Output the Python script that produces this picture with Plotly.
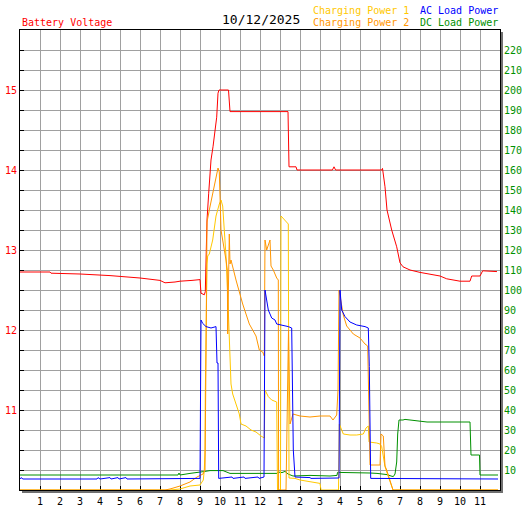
import plotly.graph_objects as go

# hours of the day on the x axis
hour_ticks = [1, 2, 3, 4, 5, 6, 7, 8, 9, 10, 11, 12, 13, 14, 15, 16, 17, 18, 19, 20, 21, 22, 23]
hour_labels = ["1", "2", "3", "4", "5", "6", "7", "8", "9", "10", "11", "12",
               "1", "2", "3", "4", "5", "6", "7", "8", "9", "10", "11"]
volt_ticks = [11, 12, 13, 14, 15]
power_ticks = [10, 20, 30, 40, 50, 60, 70, 80, 90, 100, 110, 120, 130, 140, 150, 160,
               170, 180, 190, 200, 210, 220]
date_label = "10/12/2025"

# Battery Voltage (V)
volt_t = [0, 1.5, 1.55, 3.0, 4.5, 6.0, 7.0, 7.25, 7.75, 8.0, 8.6, 9.0, 9.05, 9.215, 9.265,
          9.3, 9.35, 9.435, 9.55, 9.65, 9.835, 9.9, 9.95, 10.425, 10.5, 13.4, 13.45, 13.8,
          13.85, 15.62, 15.7, 15.78, 18.085, 18.125, 18.25, 18.35, 18.585, 18.835, 19.0,
          19.15, 19.5, 20.0, 20.5, 21.0, 21.335, 22.0, 22.5, 22.585, 23.0, 23.135, 23.85]
volt_v = [12.725, 12.725, 12.71, 12.70, 12.68, 12.65, 12.62, 12.59, 12.60, 12.61, 12.62,
          12.63, 12.46, 12.44, 12.48, 13.04, 13.375, 13.71, 14.125, 14.29, 14.66, 14.96,
          15.0, 15.0, 14.73, 14.73, 14.04, 14.04, 14.0, 14.0, 14.04, 14.0, 14.0, 14.02,
          13.79, 13.5, 13.25, 13.04, 12.84, 12.79, 12.75, 12.72, 12.70, 12.675, 12.64,
          12.61, 12.61, 12.675, 12.675, 12.74, 12.73]

# AC Load Power (W)
ac_t = [0, 0.05, 0.15, 3.85, 3.9, 4.0, 4.5, 4.55, 4.9, 4.95, 5.3, 5.35, 9.0, 9.02, 9.05,
        9.135, 9.3, 9.55, 9.8, 9.85, 9.9, 9.935, 10.6, 10.65, 11.2, 11.25, 11.9, 11.95,
        12.2, 12.25, 12.335, 12.415, 12.585, 12.75, 12.835, 13.085, 13.415, 13.585,
        13.665, 13.75, 14.5, 14.55, 15.95, 16.0, 16.085, 16.25, 16.5, 16.835, 17.25,
        17.415, 17.465, 17.535, 23.9]
ac_w = [5.5, 6.2, 5.5, 5.5, 6.2, 5.5, 6.2, 5.5, 6.2, 5.5, 6.2, 5.5, 5.8, 46, 85, 83.3,
        81.7, 81, 81.7, 63.5, 63.5, 5.8, 6.5, 5.8, 6.5, 5.8, 6.5, 5.8, 6.5, 100, 95, 90,
        86, 85, 83, 82.5, 81.7, 81, 20, 6.5, 6.2, 5.8, 6.0, 100, 90, 86.7, 84, 82.5,
        81.7, 81, 61.7, 5.8, 5.5]

# DC Load Power (W)
dc_t = [0, 7.9, 7.95, 8.0, 8.5, 9.0, 9.25, 9.5, 10.15, 10.5, 12.85, 12.9, 13.1, 13.25,
        13.4, 13.65, 14.5, 15.5, 15.85, 15.875, 17.35, 17.5, 17.85, 18.35, 18.55, 18.665,
        18.75, 18.835, 18.885, 18.95, 19.15, 19.25, 20.35, 22.5, 22.55, 22.975, 23.0, 23.9]
dc_w = [7.5, 7.5, 8.5, 7.5, 8.3, 8.8, 9.3, 9.7, 9.7, 8.3, 8.3, 9.0, 8.7, 9.3, 8.0, 7.0,
        7.3, 7.0, 7.3, 8.8, 8.8, 8.5, 8.3, 7.7, 7.0, 6.7, 8.0, 14, 28, 35, 35, 35.3, 34,
        34, 17.5, 17.5, 7.5, 7.5]

# Charging Power 1 (W)
cp1_t = [0, 7.5, 8.0, 8.5, 9.0, 9.05, 9.165, 9.215, 9.25, 9.265, 9.3, 9.35, 9.385, 9.465,
         9.635, 9.8, 9.965, 10.05, 10.135, 10.215, 10.3, 10.385, 10.465, 10.55, 10.635,
         10.8, 10.965, 11.05, 11.3, 11.55, 11.8, 12.05, 12.215, 12.25, 12.415, 12.585,
         12.835, 12.875, 13.025, 13.05, 13.25, 13.415, 13.45, 13.75, 14.0, 14.5, 15.0,
         15.05, 15.925, 15.965, 16.165, 16.5, 16.835, 17.165, 17.3, 17.415, 17.45, 17.835,
         18.0, 18.085, 18.25, 18.415, 18.585, 18.65, 23.9]
cp1_w = [0, 0, 0.5, 2, 2.5, 3.3, 5, 10, 20, 48, 90, 113, 117, 118, 125, 137, 143, 145,
         142, 132, 117, 98, 72, 53, 48, 43, 38, 33, 32, 30, 29, 27, 26, 50, 46.7, 45, 44,
         0, 0, 137, 135, 133, 6, 5.8, 5, 4.2, 3.3, 0, 0, 33, 28, 27.5, 27.5, 28, 31, 32,
         24, 23.5, 23, 21.7, 11.7, 6.7, 1.7, 0, 0]

# Charging Power 2 (W)
cp2_t = [0, 7.25, 7.5, 8.0, 8.5, 8.85, 9.15, 9.25, 9.3, 9.35, 9.465, 9.635, 9.8, 9.9,
         9.965, 10.05, 10.3, 10.365, 10.385, 10.425, 10.465, 10.5, 10.55, 10.8, 11.135,
         11.465, 11.8, 11.965, 12.135, 12.215, 12.25, 12.335, 12.415, 12.5, 12.55, 12.665,
         12.835, 12.915, 12.93, 13.3, 13.425, 13.5, 13.65, 14.0, 14.5, 15.0, 15.5, 15.65,
         15.835, 15.9, 15.95, 16.05, 16.165, 16.335, 16.665, 17.0, 17.25, 17.385, 17.415,
         17.5, 18.0, 18.05, 18.165, 18.25, 18.335, 18.5, 18.65, 23.9]
cp2_w = [0, 0, 0.5, 2, 4, 6.5, 8, 10, 67, 134, 140, 148, 157, 161, 159, 130, 115, 110, 78,
         110, 128, 113, 115, 105, 93, 83, 77, 70, 69, 67, 125, 120, 123, 125, 112, 110, 106,
         105, 0, 0, 80, 33, 38, 37, 36.5, 37, 37, 35, 37.5, 50, 100, 94, 87.5, 82, 78, 76,
         73, 72, 57, 12.5, 12.5, 28, 27, 12, 10, 5, 0, 0]

RED = "#ff0000"
BLUE = "#0000ff"
GREEN = "#009000"
GOLD = "#ffc800"
ORANGE = "#ff9600"
GRID = "#a0a0a0"
FONT = "DejaVu Sans Mono"

fig = go.Figure()
fig.add_trace(go.Scatter(x=dc_t, y=dc_w, yaxis="y2", mode="lines",
                         line=dict(color=GREEN, width=1), name="DC Load Power"))
fig.add_trace(go.Scatter(x=cp1_t, y=cp1_w, yaxis="y2", mode="lines",
                         line=dict(color=GOLD, width=1), name="Charging Power 1"))
fig.add_trace(go.Scatter(x=cp2_t, y=cp2_w, yaxis="y2", mode="lines",
                         line=dict(color=ORANGE, width=1), name="Charging Power 2"))
fig.add_trace(go.Scatter(x=ac_t, y=ac_w, yaxis="y2", mode="lines",
                         line=dict(color=BLUE, width=1), name="AC Load Power"))
fig.add_trace(go.Scatter(x=volt_t, y=volt_v, mode="lines",
                         line=dict(color=RED, width=1), name="Battery Voltage"))

fig.update_layout(
    width=527, height=510,
    margin=dict(l=20, r=27, t=30, b=20, autoexpand=False),
    paper_bgcolor="white", plot_bgcolor="white",
    showlegend=False,
    font=dict(family=FONT, size=10),
    xaxis=dict(range=[0, 24], tickmode="array", tickvals=hour_ticks, ticktext=hour_labels,
               showgrid=True, gridcolor=GRID, gridwidth=1, zeroline=False, automargin=False,
               ticks="inside", ticklen=4, tickcolor="black", ticklabelstandoff=2,
               showline=True, linecolor="black", linewidth=1, mirror=True,
               tickfont=dict(color="black", size=10, family=FONT), layer="below traces"),
    yaxis=dict(range=[10, 15.75], tickmode="array", tickvals=volt_ticks,
               showgrid=True, gridcolor=GRID, gridwidth=1, zeroline=False, automargin=False,
               ticks="inside", ticklen=4, tickcolor="black",
               minor=dict(tickmode="linear", tick0=10, dtick=0.25, showgrid=True,
                          gridcolor=GRID, ticks="inside", ticklen=4, tickcolor="black"),
               showline=True, linecolor="black", linewidth=1, mirror=True,
               tickfont=dict(color=RED, size=10, family=FONT), layer="below traces"),
    yaxis2=dict(range=[0, 230], overlaying="y", side="right", tickmode="array",
                tickvals=power_ticks, showgrid=False, zeroline=False, ticks="",
                automargin=False, showline=False, ticklabelstandoff=3,
                tickfont=dict(color=GREEN, size=10, family=FONT)),
)

# frame shadow (right and bottom)
fig.add_shape(type="line", xref="paper", yref="paper", x0=1 + 2 / 480, x1=1 + 2 / 480,
              y0=-2 / 460, y1=1 - 2 / 460, line=dict(color="#707070", width=2))
fig.add_shape(type="line", xref="paper", yref="paper", x0=2 / 480, x1=1 + 3 / 480,
              y0=-2 / 460, y1=-2 / 460, line=dict(color="#707070", width=2))

# header texts
fig.add_annotation(text="Battery Voltage", xref="paper", yref="paper", x=0, y=1 + 7 / 460,
                   xanchor="left", yanchor="middle", showarrow=False,
                   font=dict(color=RED, size=10, family=FONT))
fig.add_annotation(text=date_label, xref="paper", yref="paper", x=241 / 480, y=1 + 10 / 460,
                   xanchor="center", yanchor="middle", showarrow=False,
                   font=dict(color="black", size=13, family=FONT))
fig.add_annotation(text="Charging Power 1", xref="paper", yref="paper", x=291 / 480,
                   y=1 + 19 / 460, xanchor="left", yanchor="middle", showarrow=False,
                   font=dict(color=GOLD, size=10, family=FONT))
fig.add_annotation(text="Charging Power 2", xref="paper", yref="paper", x=291 / 480,
                   y=1 + 7 / 460, xanchor="left", yanchor="middle", showarrow=False,
                   font=dict(color=ORANGE, size=10, family=FONT))
fig.add_annotation(text="AC Load Power", xref="paper", yref="paper", x=398 / 480,
                   y=1 + 19 / 460, xanchor="left", yanchor="middle", showarrow=False,
                   font=dict(color=BLUE, size=10, family=FONT))
fig.add_annotation(text="DC Load Power", xref="paper", yref="paper", x=398 / 480,
                   y=1 + 7 / 460, xanchor="left", yanchor="middle", showarrow=False,
                   font=dict(color=GREEN, size=10, family=FONT))

# drop the page's default body margin so the 527x510 figure fills the window
fig.write_html("out.html", config={"displayModeBar": False},
               post_script="document.body.style.margin = '0';")
